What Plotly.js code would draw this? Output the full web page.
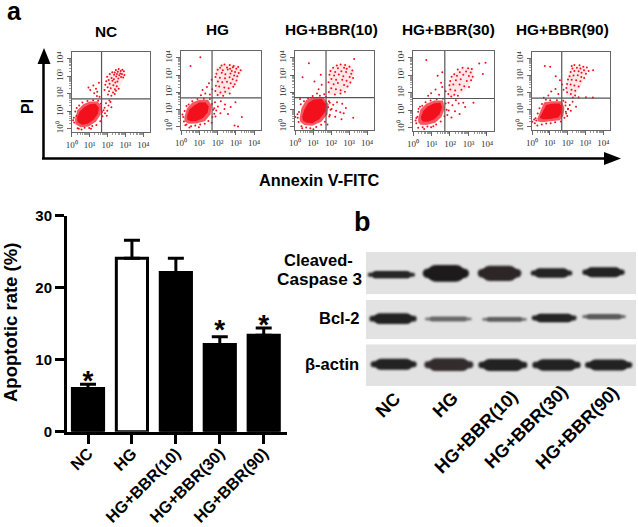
<!DOCTYPE html>
<html><head><meta charset="utf-8">
<script src="https://cdn.plot.ly/plotly-3.0.1.min.js"></script>
<style>html,body{margin:0;padding:0;background:#fff}#chart{width:638px;height:527px}</style>
</head><body><div id="chart"></div>
<script>
var W=638,H=527;
var groups=['NC','HG','HG+BBR(10)','HG+BBR(30)','HG+BBR(90)'];
var apoptosis=[6.0,24.1,22.1,12.1,13.4];
var apoptosisErr=[0.6,2.5,2.0,1.1,1.0];
var starred=[6.8,null,null,13.8,14.5];
var barFill=['#000','#fff','#000','#000','#000'];

var flowCore=[
 [[.3,.62],[.45,.98],[.7,1.22],[1,1.4],[1.33,1.43],[1.52,1.2],[1.47,.85],[1.23,.52],[.9,.28],[.57,.22],[.33,.36]],
 [[.33,.6],[.45,.98],[.72,1.22],[1,1.4],[1.33,1.42],[1.52,1.18],[1.46,.82],[1.2,.5],[.85,.33],[.52,.31],[.35,.4]],
 [[.4,.57],[.52,1],[.74,1.38],[1.05,1.58],[1.48,1.6],[1.72,1.3],[1.68,.87],[1.35,.43],[.95,.19],[.62,.24],[.44,.35]],
 [[.43,.6],[.55,.95],[.82,1.23],[1.15,1.4],[1.48,1.43],[1.57,1.15],[1.43,.77],[1.15,.48],[.8,.33],[.55,.35],[.45,.44]],
 [[.45,.57],[.62,.9],[.8,1.27],[1.1,1.35],[1.53,1.36],[1.65,1.2],[1.62,.77],[1.48,.53],[1.0,.45],[.64,.44],[.46,.49]]
];
var flowHalo=[
 [[.18,.52],[.32,1.05],[.65,1.4],[1,1.56],[1.45,1.56],[1.66,1.28],[1.62,.8],[1.36,.4],[.95,.12],[.5,.08],[.22,.24]],
 [[.18,.52],[.32,1.05],[.62,1.4],[1,1.56],[1.48,1.56],[1.68,1.22],[1.62,.72],[1.32,.33],[.85,.18],[.42,.17],[.2,.3]],
 [[.25,.47],[.36,1.08],[.62,1.54],[1,1.72],[1.56,1.72],[1.86,1.3],[1.8,.72],[1.46,.28],[.95,.05],[.52,.09],[.3,.26]],
 [[.28,.52],[.4,1.03],[.72,1.36],[1.15,1.55],[1.62,1.56],[1.72,1.1],[1.54,.6],[1.2,.28],[.72,.14],[.4,.16],[.28,.3]],
 [[.3,.48],[.5,.98],[.68,1.44],[1.1,1.5],[1.68,1.5],[1.82,1.1],[1.76,.64],[1.56,.38],[1.0,.32],[.54,.25],[.32,.32]]
];
var flowRing=[
 [[.12,.62],[.2,.98],[.28,1.18],[.14,.35],[.33,.02],[.55,-.05],[.72,.05],[.98,.03],[1.15,.14],[1.38,.2],[1.6,.42],[1.72,.7],[1.78,1.05],[1.62,1.42],[1.48,1.6],[1.2,1.62],[.88,1.58],[.6,1.5],[.42,1.32],[.26,.72],[1.08,-.02],[.4,-.02],[1.7,.95],[.08,.48]],
 [[.12,.55],[.2,.9],[.3,1.2],[.16,.3],[.3,.12],[.55,.02],[.78,.06],[1.05,.12],[1.3,.16],[1.5,.32],[1.72,.55],[1.76,.98],[1.7,1.32],[1.58,1.6],[1.25,1.62],[.9,1.6],[.62,1.47],[.42,1.28],[.08,.7],[.46,-.05],[.98,-.04],[1.68,.22],[.24,.08],[1.82,.74]],
 [[.15,.52],[.22,.85],[.32,1.3],[.2,.26],[.36,.02],[.62,-.06],[.85,-.1],[1.18,-.02],[1.45,.1],[1.66,.28],[1.9,.58],[1.97,.98],[1.93,1.38],[1.72,1.72],[1.38,1.8],[.98,1.78],[.72,1.65],[.5,1.48],[.14,.72],[.02,.55],[.4,-.1],[1.02,-.15],[1.8,.12],[.28,1.6]],
 [[.18,.55],[.28,.9],[.38,1.2],[.18,.24],[.28,-.02],[.52,.02],[.78,.06],[.98,.02],[1.25,.18],[1.5,.35],[1.7,.65],[1.82,1.02],[1.76,1.38],[1.62,1.65],[1.28,1.62],[.95,1.56],[.68,1.45],[.5,1.25],[.24,.62],[.14,.4],[.6,-.08],[1.1,.08],[1.86,.72],[.3,1.08]],
 [[.2,.5],[.32,.78],[.42,1.08],[.16,.2],[.3,.06],[.55,.12],[.8,.18],[1.05,.2],[1.3,.26],[1.62,.3],[1.82,.52],[1.9,.88],[1.88,1.25],[1.76,1.52],[1.4,1.56],[1.02,1.55],[.78,1.58],[.56,1.34],[.12,.42],[.02,.28],[.24,.36],[2.02,1.05],[1.98,.62],[.66,1.7]]
];
var flowCloud=[
 [[2.45,3.38],[2.92,3.42],[2.98,3],[2.6,2.2],[2.3,2],[1.98,2.6],[2.02,3.08]],
 [[1.9,3.4],[2.3,3.62],[3.12,3.58],[3.32,3.2],[3,2.5],[2.6,1.9],[1.88,1.78],[1.87,2.6]],
 [[1.88,3.3],[2.3,3.62],[3.02,3.62],[3.32,3.2],[3.08,2.4],[2.6,1.98],[1.88,1.78]],
 [[1.92,2.4],[2.2,3.1],[2.7,3.48],[3.27,3.42],[3.27,2.8],[2.8,2.1],[2.2,1.78],[1.88,1.78]],
 [[1.92,2.2],[2.02,3.0],[2.2,3.52],[2.88,3.58],[3.12,3.3],[2.75,2.4],[2.4,1.82],[1.92,1.78]]
];
var flowDots=[
 [[2.63,3.42],[2.74,3.31],[2.47,3.36],[2.83,3.38],[2.41,3.22],[2.58,3.27],[2.72,3.17],[2.92,3.29],[2.53,3.13],[2.66,3.06],[2.81,3.14],[2.95,3.08],[2.37,3.09],[2.27,3.24],[2.49,2.99],[2.76,2.96],[2.88,2.93],[2.13,3.13],[1.98,2.98],[2.23,2.91],[2.36,2.83],[2.61,2.87],[2.07,2.79],[1.93,2.72],[2.28,2.74],[2.44,2.64],[2.56,2.71],[2.12,2.57],[1.88,2.51],[2.33,2.49],[2.52,2.43],[2.01,2.37],[2.18,2.31],[2.42,2.26],[2.63,2.29],[1.84,2.22],[2.09,2.14],[2.31,2.07],[2.48,2.17],[2.03,1.96],[2.22,1.88],[2.41,1.98],[1.04,2.22],[1.21,2.47],[1.36,2.28],[1.43,2.11],[1.52,2.63],[1.26,2.03],[1.41,1.87],[.94,2.36],[1.56,1.83],[1.92,1.46],[2.06,1.33],[1.84,1.19],[2.17,1.52],[1.99,1.02],[1.86,.88],[1.96,.74],[2.22,1.22],[2.11,1.61]],
 [[2.22,3.56],[2.38,3.61],[2.67,3.58],[2.88,3.53],[3.13,3.47],[2.14,3.43],[2.52,3.44],[2.69,3.37],[2.84,3.46],[3.03,3.36],[3.27,3.28],[2.01,3.31],[2.29,3.28],[2.56,3.33],[2.78,3.23],[2.96,3.18],[3.16,3.12],[1.94,3.07],[2.23,3.13],[2.43,3.04],[2.71,3.09],[2.91,2.97],[3.08,2.93],[1.89,2.88],[2.13,2.84],[2.41,2.82],[2.66,2.87],[2.83,2.76],[3.04,2.68],[2.02,2.63],[2.26,2.58],[2.52,2.61],[2.72,2.52],[2.94,2.47],[1.91,2.38],[2.09,2.33],[2.37,2.27],[2.61,2.23],[2.86,2.32],[1.88,2.07],[2.16,1.98],[2.42,2.03],[2.67,1.93],[2.01,1.84],[2.31,1.79],[1.18,2.13],[1.42,2.31],[1.53,2.52],[1.09,1.83],[1.33,1.92],[1.58,1.86],[1.71,2.17],[1.68,2.72],[.52,3.53],[1.06,4.03],[1.86,1.42],[2.02,1.17],[2.18,1.47],[2.41,1.28],[1.93,.93],[2.16,.78],[2.38,1.03],[2.57,.73],[1.89,.58],[2.72,1.14],[3.33,.56],[2.98,1.42],[2.93,.06],[3.12,.01],[1.82,1.07]],
 [[2.32,3.56],[2.53,3.61],[2.78,3.58],[3.02,3.48],[2.11,3.42],[2.38,3.39],[2.72,3.43],[2.87,3.36],[3.18,3.27],[1.97,3.24],[2.23,3.18],[2.57,3.22],[2.83,3.17],[3.12,3.08],[1.91,3.02],[2.17,2.97],[2.43,3.03],[2.68,2.93],[3.03,2.88],[3.22,2.83],[2.02,2.77],[2.28,2.73],[2.62,2.72],[2.86,2.67],[3.07,2.57],[1.86,2.58],[2.14,2.47],[2.38,2.53],[2.72,2.42],[2.91,2.33],[2.01,2.23],[2.27,2.18],[2.53,2.12],[1.88,2.01],[2.21,1.87],[2.52,1.92],[2.77,2.02],[1.08,2.63],[1.31,2.17],[1.48,2.43],[1.22,1.93],[1.62,1.88],[.42,2.87],[.77,3.68],[1.43,3.02],[1.88,1.47],[2.12,1.27],[2.33,1.42],[2.62,1.33],[2.03,1.02],[2.28,.92],[2.51,.83],[2.82,1.08],[1.93,.68],[2.23,.57],[2.58,.43],[3.28,3.93],[3.23,.52],[1.84,1.12],[2.7,.77]],
 [[2.42,3.33],[2.68,3.43],[2.98,3.41],[3.18,3.36],[2.23,3.07],[2.53,3.18],[2.87,3.22],[3.12,3.17],[3.58,3.68],[3.92,3.72],[2.09,2.92],[2.38,2.97],[2.72,3.03],[3.02,2.96],[3.23,2.92],[2.01,2.67],[2.32,2.72],[2.58,2.77],[2.91,2.68],[3.14,2.72],[1.97,2.43],[2.18,2.47],[2.52,2.48],[2.77,2.38],[3.03,2.33],[2.02,2.18],[2.28,2.13],[2.62,2.17],[1.91,1.93],[2.23,1.88],[2.43,1.83],[2.07,1.79],[.98,1.97],[1.22,2.18],[1.41,1.88],[1.58,2.33],[1.76,2.08],[.82,1.83],[1.52,2.57],[.72,3.88],[1.58,3.18],[1.33,2.97],[3.78,3.08],[1.92,1.43],[2.13,1.28],[2.47,1.38],[2.72,1.43],[1.93,.98],[2.27,.93],[2.52,.78],[2.08,.58],[2.82,1.18],[3.27,1.42],[2.32,1.57]],
 [[2.23,3.58],[2.38,3.63],[2.67,3.62],[2.88,3.53],[3.08,3.48],[2.27,3.43],[2.52,3.47],[2.72,3.42],[2.92,3.33],[3.18,3.28],[3.43,3.33],[2.17,3.22],[2.38,3.28],[2.62,3.27],[2.78,3.17],[3.03,3.12],[2.11,2.97],[2.33,3.02],[2.57,3.03],[2.77,2.93],[2.93,2.87],[2.02,2.78],[2.23,2.77],[2.48,2.73],[2.72,2.67],[1.97,2.52],[2.17,2.48],[2.38,2.43],[2.62,2.37],[1.93,2.27],[2.22,2.18],[2.43,2.12],[1.97,2.03],[2.18,1.93],[2.42,1.83],[1.08,2.07],[1.32,2.22],[1.48,1.93],[1.68,2.48],[1.57,2.73],[1.77,2.18],[.92,1.83],[1.33,2.97],[.72,3.58],[1.02,3.53],[1.88,1.43],[2.12,1.28],[2.28,1.47],[2.02,1.03],[2.18,.93],[1.92,.78],[2.47,1.17],[3.03,1.73],[3.42,1.72],[2.3,1.72],[2.62,1.73]]
];
var quadX=[1.67,1.7,1.72,1.72,1.67];
var quadY=[1.7,1.67,1.68,1.67,1.68];
var flowTicks=[0,1,2,3,4];
var flowTickText=['10⁰','10¹','10²','10³','10⁴'];
var flowMinor=[2,3,4,5,6,7,8,9];

var casp3Left=[143,308,473,632,787],casp3Right=[285,447,604,757,914],casp3Mid=[209,205,205,204,202],casp3Thick=[22,50,46,28,30],casp3Tone=['#262626','#1c1a1a','#2c2626','#242424','#222'];
var bcl2Left=[148,315,487,635,787],bcl2Right=[290,455,620,770,917],bcl2Mid=[341,342,343,339,335],bcl2Thick=[32,13,13,26,15],bcl2Tone=['#222','#6a6a6a','#5c5c5c','#242424','#5a5a5a'];
var actinLeft=[152,313,475,637,795],actinRight=[290,460,622,782,937],actinMid=[478,479,480,480,480],actinThick=[33,38,36,35,33],actinTone=['#222','#332c2c','#222','#222','#222'];

var px=function(x){return x/W;}, py=function(y){return 1-y/H;};
var traces=[];
traces.push({type:'bar',x:groups,y:apoptosis,width:.71,xaxis:'x',yaxis:'y',
 marker:{color:barFill,line:{color:'#000',width:3}},
 error_y:{type:'data',symmetric:false,array:apoptosisErr,arrayminus:[0,0,0,0,0],color:'#000',thickness:3,width:8}});
traces.push({type:'scatter',mode:'text',x:groups,y:starred,text:groups.map(function(g,i){return starred[i]===null?'':'*';}),
 textposition:'middle center',textfont:{family:'Liberation Sans',size:28,color:'#000',weight:700},xaxis:'x',yaxis:'y',cliponaxis:false});

var RED='#f2101c';
var layout={width:W,height:H,margin:{l:0,r:0,t:0,b:0},paper_bgcolor:'#fff',plot_bgcolor:'#fff',showlegend:false,shapes:[],annotations:[],
 font:{family:'Liberation Sans',color:'#000'},
 xaxis:{domain:[px(67),px(287)],range:[-.478,4.53],type:'category',fixedrange:true,showgrid:false,zeroline:false,showline:true,linewidth:3,linecolor:'#000',ticks:'outside',ticklen:9,tickwidth:3,tickcolor:'#000',tickangle:-45,ticklabelstandoff:-6,tickfont:{family:'Liberation Sans',size:16.2,color:'#000',weight:700},anchor:'y'},
 yaxis:{domain:[py(431.7),py(215.7)],range:[0,30],tickvals:[0,10,20,30],showgrid:false,zeroline:false,showline:true,linewidth:3,linecolor:'#000',ticks:'outside',ticklen:9,tickwidth:3,tickcolor:'#000',tickfont:{family:'Liberation Sans',size:15,color:'#000',weight:700},anchor:'x'}
};
var boxes=[[71.7,150,132,52],[181,261,130,51],[295,374,130,51],[413,494,131,51],[532,610,130,52]];
var minorVals=[];
flowTicks.slice(0,4).forEach(function(d){flowMinor.forEach(function(m){minorVals.push(d+Math.log10(m));});});
boxes.forEach(function(b,i){
 var n=i+2,xa='x'+n,ya='y'+n;
 var ax={showgrid:false,zeroline:false,showline:true,mirror:true,linecolor:'#666',linewidth:1,ticks:'outside',ticklen:4,tickwidth:.8,tickcolor:'#444',
  tickmode:'array',tickvals:flowTicks,ticktext:flowTickText,tickfont:{family:'Liberation Serif',size:9,color:'#333'},
  minor:{tickmode:'array',tickvals:minorVals,ticks:'outside',ticklen:2,tickwidth:.6,tickcolor:'#555'}};
 layout['xaxis'+n]=Object.assign({},ax,{domain:[px(b[0]),px(b[1])],range:[0,4.38],anchor:ya,tickangle:0});
 layout['yaxis'+n]=Object.assign({},ax,{domain:[py(b[2]),py(b[3])],range:[-.2,4.4],anchor:xa,tickangle:-90});
 function poly(p,op){traces.push({type:'scatter',mode:'lines',fill:'toself',fillcolor:RED,opacity:op,line:{width:0,color:RED},
  x:p.map(function(q){return q[0];}).concat(p[0][0]),y:p.map(function(q){return q[1];}).concat(p[0][1]),xaxis:xa,yaxis:ya});}
 poly(flowCloud[i],.1);poly(flowHalo[i],.7);poly(flowCore[i],1);
 var dots=flowDots[i].concat(flowRing[i]);
 traces.push({type:'scatter',mode:'markers',x:dots.map(function(q){return q[0];}),y:dots.map(function(q){return q[1];}),
  marker:{size:2,color:RED,line:{width:0}},xaxis:xa,yaxis:ya});
 traces.push({type:'scatter',mode:'lines',x:[quadX[i],quadX[i]],y:[-.2,4.4],line:{color:'#555',width:1.2},xaxis:xa,yaxis:ya});
 traces.push({type:'scatter',mode:'lines',x:[0,4.38],y:[quadY[i],quadY[i]],line:{color:'#555',width:1.2},xaxis:xa,yaxis:ya});
});
var blots=[
 {top:251.7,bot:294.3,r:[268,140],L:casp3Left,R:casp3Right,M:casp3Mid,T:casp3Thick,C:casp3Tone},
 {top:300,bot:339,r:[402,285],L:bcl2Left,R:bcl2Right,M:bcl2Mid,T:bcl2Thick,C:bcl2Tone},
 {top:344.3,bot:386,r:[543,418],L:actinLeft,R:actinRight,M:actinMid,T:actinThick,C:actinTone}
];
blots.forEach(function(b,i){
 var n=i+7,xa='x'+n,ya='y'+n;
 layout['xaxis'+n]={domain:[px(365.7),px(636)],range:[137,948],visible:false,anchor:ya};
 layout['yaxis'+n]={domain:[py(b.bot),py(b.top)],range:b.r,visible:false,anchor:xa};
 traces.push({type:'scatter',mode:'lines',x:[137,948,948,137,137],y:[b.r[0],b.r[0],b.r[1],b.r[1],b.r[0]],fill:'toself',fillcolor:'#e2e2e2',line:{width:0},xaxis:xa,yaxis:ya});
 b.L.forEach(function(l,j){
  var r=b.R[j],m=b.M[j],t=b.T[j],len=r-l,thin=t*.55,ins=len*.1;
  traces.push({type:'scatter',mode:'lines',x:[l+thin/2,r-thin/2],y:[m,m],line:{color:b.C[j],width:thin/3},xaxis:xa,yaxis:ya});
  traces.push({type:'scatter',mode:'lines',x:[l+ins+t/2,r-ins-t/2],y:[m,m],line:{color:b.C[j],width:t/3},xaxis:xa,yaxis:ya});
 });
});
function txt(t,x,y,size,o){layout.annotations.push(Object.assign({text:t,x:px(x),y:py(y),xref:'paper',yref:'paper',showarrow:false,
 xanchor:'center',yanchor:'middle',font:{family:'Liberation Sans',size:size,color:'#000',weight:700}},o||{}));}
txt('a',14,11,25);txt('b',362,222,27);
txt('NC',106,32,15.4);txt('HG',217,30,15.4);txt('HG+BBR(10)',331,29,15.4);txt('HG+BBR(30)',448,29,15.4);txt('HG+BBR(90)',562,29,15.4);
txt('PI',28,107,16,{textangle:-90});
txt('Annexin V-FITC',320,180,16.3);
txt('Apoptotic rate (%)',10,323,18.5,{textangle:-90});
txt('Cleaved-',355,260,16.5,{xanchor:'right'});
txt('Caspase 3',364,279,17.2,{xanchor:'right'});
txt('Bcl-2',361,318,16.5,{xanchor:'right'});
txt('β-actin',361,364,16.5,{xanchor:'right'});
var blotTickX=[388,445,476,526,577],blotTickY=[405,405,432,427,428];
groups.forEach(function(g,i){txt(g,blotTickX[i],blotTickY[i],18,{textangle:-45});});
layout.shapes.push({type:'line',xref:'paper',yref:'paper',x0:px(43.5),x1:px(43.5),y0:py(158.5),y1:py(62),line:{color:'#000',width:2.5}});
layout.shapes.push({type:'line',xref:'paper',yref:'paper',x0:px(42),x1:px(606),y0:py(158.5),y1:py(158.5),line:{color:'#000',width:2.5}});
layout.shapes.push({type:'path',xref:'paper',yref:'paper',path:'M '+px(44)+','+py(48)+' L '+px(50.5)+','+py(64)+' L '+px(37.5)+','+py(64)+' Z',fillcolor:'#000',line:{width:0}});
layout.shapes.push({type:'path',xref:'paper',yref:'paper',path:'M '+px(621)+','+py(158.5)+' L '+px(604)+','+py(152)+' L '+px(604)+','+py(165)+' Z',fillcolor:'#000',line:{width:0}});

Plotly.newPlot('chart',traces,layout,{displayModeBar:false,staticPlot:true}).then(function(){
 [7,8,9].forEach(function(n){
  document.querySelectorAll('.x'+n+'y'+n+' .scatterlayer .trace').forEach(function(tr,i){
   if(i===0)return;
   var l=tr.querySelector('.js-line');
   if(l){l.style.strokeLinecap='round';l.style.filter='blur(1px)';}
  });
 });
});
</script></body></html>
